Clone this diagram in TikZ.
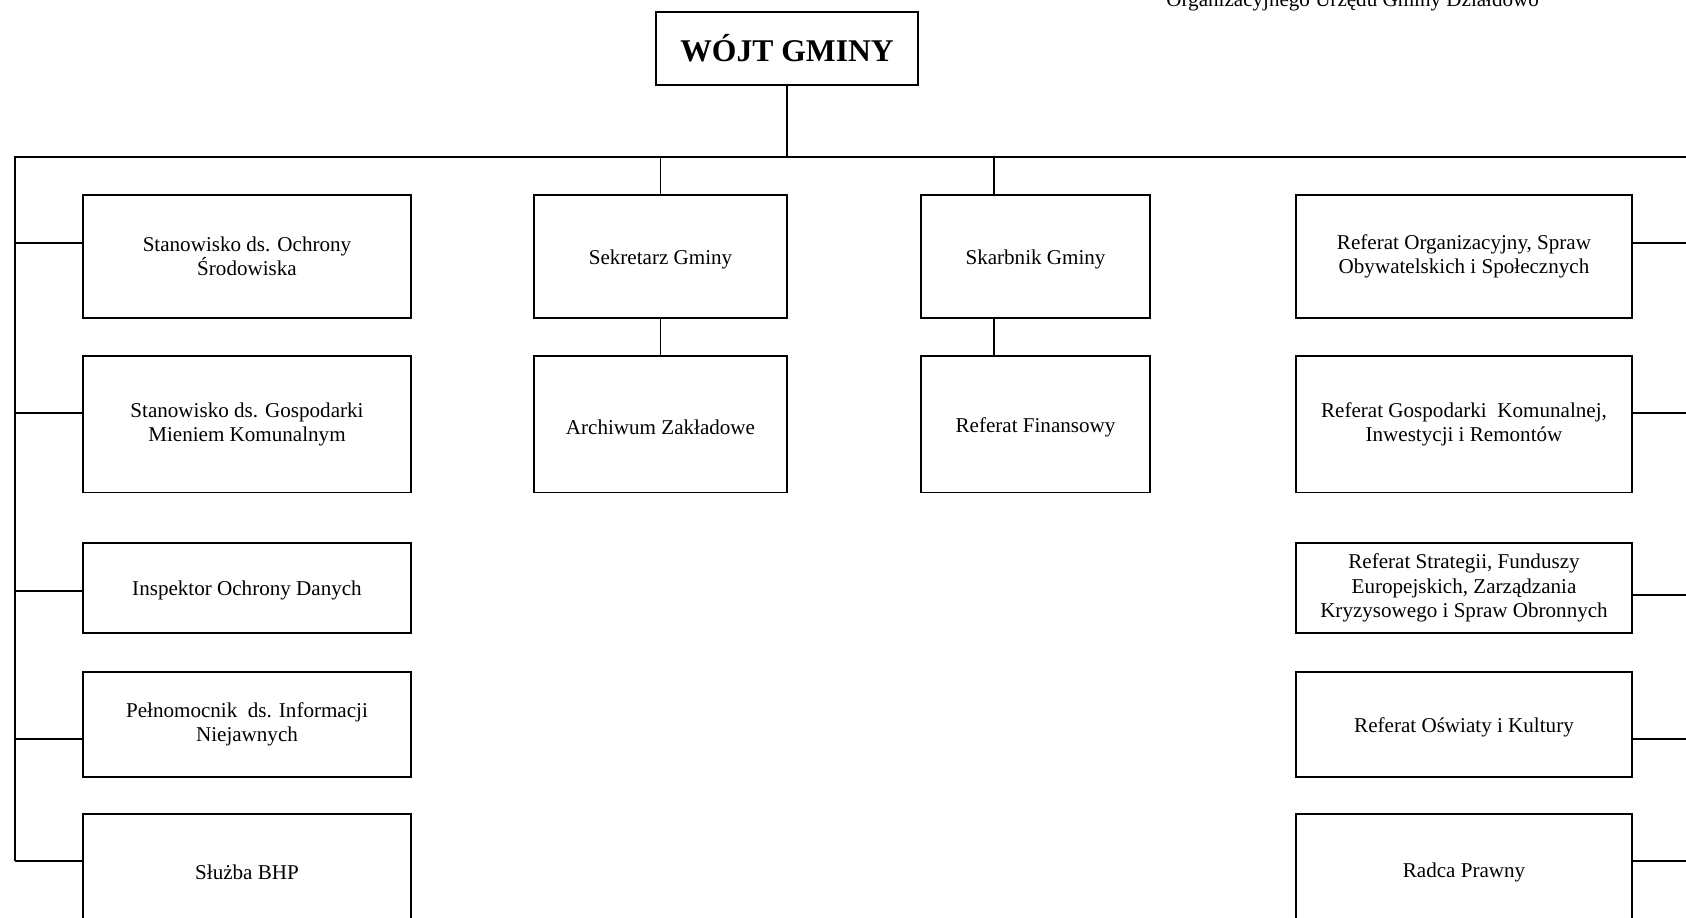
\documentclass[tikz,border=0pt]{standalone}
\usepackage{fontspec}
\setmainfont{Liberation Serif}
\usetikzlibrary{positioning}

\begin{document}
\begin{tikzpicture}[
      x=0.02cm, y=-0.02cm,
      unit/.style={
         rectangle,
         draw=black,
         line width=1pt,
         inner sep=2pt,
         outer sep=0pt,
         align=center,
         font=\fontsize{12}{13.8}\selectfont,
         execute at begin node={\rule{0pt}{11.6pt}}
      },
      chief/.style={
         unit,
         font=\bfseries\fontsize{18}{21}\selectfont,
         execute at begin node={}
      },
      side/.style={unit, minimum width=6.56cm},
      rside/.style={unit, minimum width=6.72cm},
      point/.style={coordinate},
      link/.style={line width=1pt}
    ]
    \useasboundingbox (0,0) rectangle (1686,918);
    \clip (0,0) rectangle (1686,918);

    \node (hdr) [anchor=base west, inner sep=0pt, font=\fontsize{12}{13.8}\selectfont] at (1166,7) {Organizacyjnego Urzędu Gminy Działdowo};

    \node (wojt) [chief, minimum width=5.24cm, minimum height=1.46cm] at (787,48.5) {WÓJT GMINY};

    \node (l1) [side, minimum height=2.46cm] at (247,256.5) {Stanowisko ds. Ochrony\\Środowiska};
    \node (l2) [side, minimum height=2.73cm, below=0.76cm of l1] {Stanowisko ds. Gospodarki\\Mieniem Komunalnym};
    \node (l3) [side, minimum height=1.8cm, below=1.01cm of l2] {Inspektor Ochrony Danych};
    \node (l4) [side, minimum height=2.1cm, below=0.78cm of l3] {Pełnomocnik~ ds. Informacji\\Niejawnych};
    \node (l5) [side, minimum height=2.24cm, below=0.74cm of l4] {Służba BHP};

    \node (sekr) [unit, minimum width=5.06cm, minimum height=2.46cm] at (660.5,256.5) {Sekretarz Gminy};
    \node (arch) [unit, minimum width=5.06cm, minimum height=2.73cm, below=0.76cm of sekr] {Archiwum Zakładowe};
    \node (skarb) [unit, minimum width=4.58cm, minimum height=2.46cm] at (1035.5,256.5) {Skarbnik Gminy};
    \node (fin) [unit, minimum width=4.58cm, minimum height=2.73cm, below=0.76cm of skarb] {Referat Finansowy};

    \node (r1) [rside, minimum height=2.46cm] at (1464,256.5) {Referat Organizacyjny, Spraw\\Obywatelskich i Społecznych};
    \node (r2) [rside, minimum height=2.73cm, below=0.76cm of r1] {Referat Gospodarki~ Komunalnej,\\Inwestycji i Remontów};
    \node (r3) [rside, minimum height=1.8cm, below=1.01cm of r2] {Referat Strategii, Funduszy\\Europejskich, Zarządzania\\Kryzysowego i Spraw Obronnych};
    \node (r4) [rside, minimum height=2.1cm, below=0.78cm of r3] {Referat Oświaty i Kultury};
    \node (r5) [rside, minimum height=2.24cm, below=0.74cm of r4] {Radca Prawny};

    \node (top) [point] at (787,157) {};
    \node (lt) [point] at (15,157) {};
    \node (rt) [point] at (1700,157) {};
    \node (sk) [point] at (994,157) {};
    \foreach \n/\yl/\yr in {1/243/243,2/413/413,3/591/595,4/739/739,5/861/861} {
      \node (ls\n) [point] at (15,\yl) {};
      \node (rs\n) [point] at (1700,\yr) {};
    }

    \draw [link] (wojt) -- (top);
    \draw [link] (rt) -- (lt) -- (ls5);
    \draw [link] (sekr.north |- top) -- (sekr);
    \draw [link] (sekr) -- (arch);
    \draw [link] (sk) -- (sk |- skarb.north);
    \draw [link] (sk |- skarb.south) -- (sk |- fin.north);
    \foreach \n in {1,...,5} {
      \draw [link] (ls\n) -- (ls\n -| l\n.west);
      \draw [link] (rs\n) -- (rs\n -| r\n.east);
    }
\end{tikzpicture}
\end{document}
